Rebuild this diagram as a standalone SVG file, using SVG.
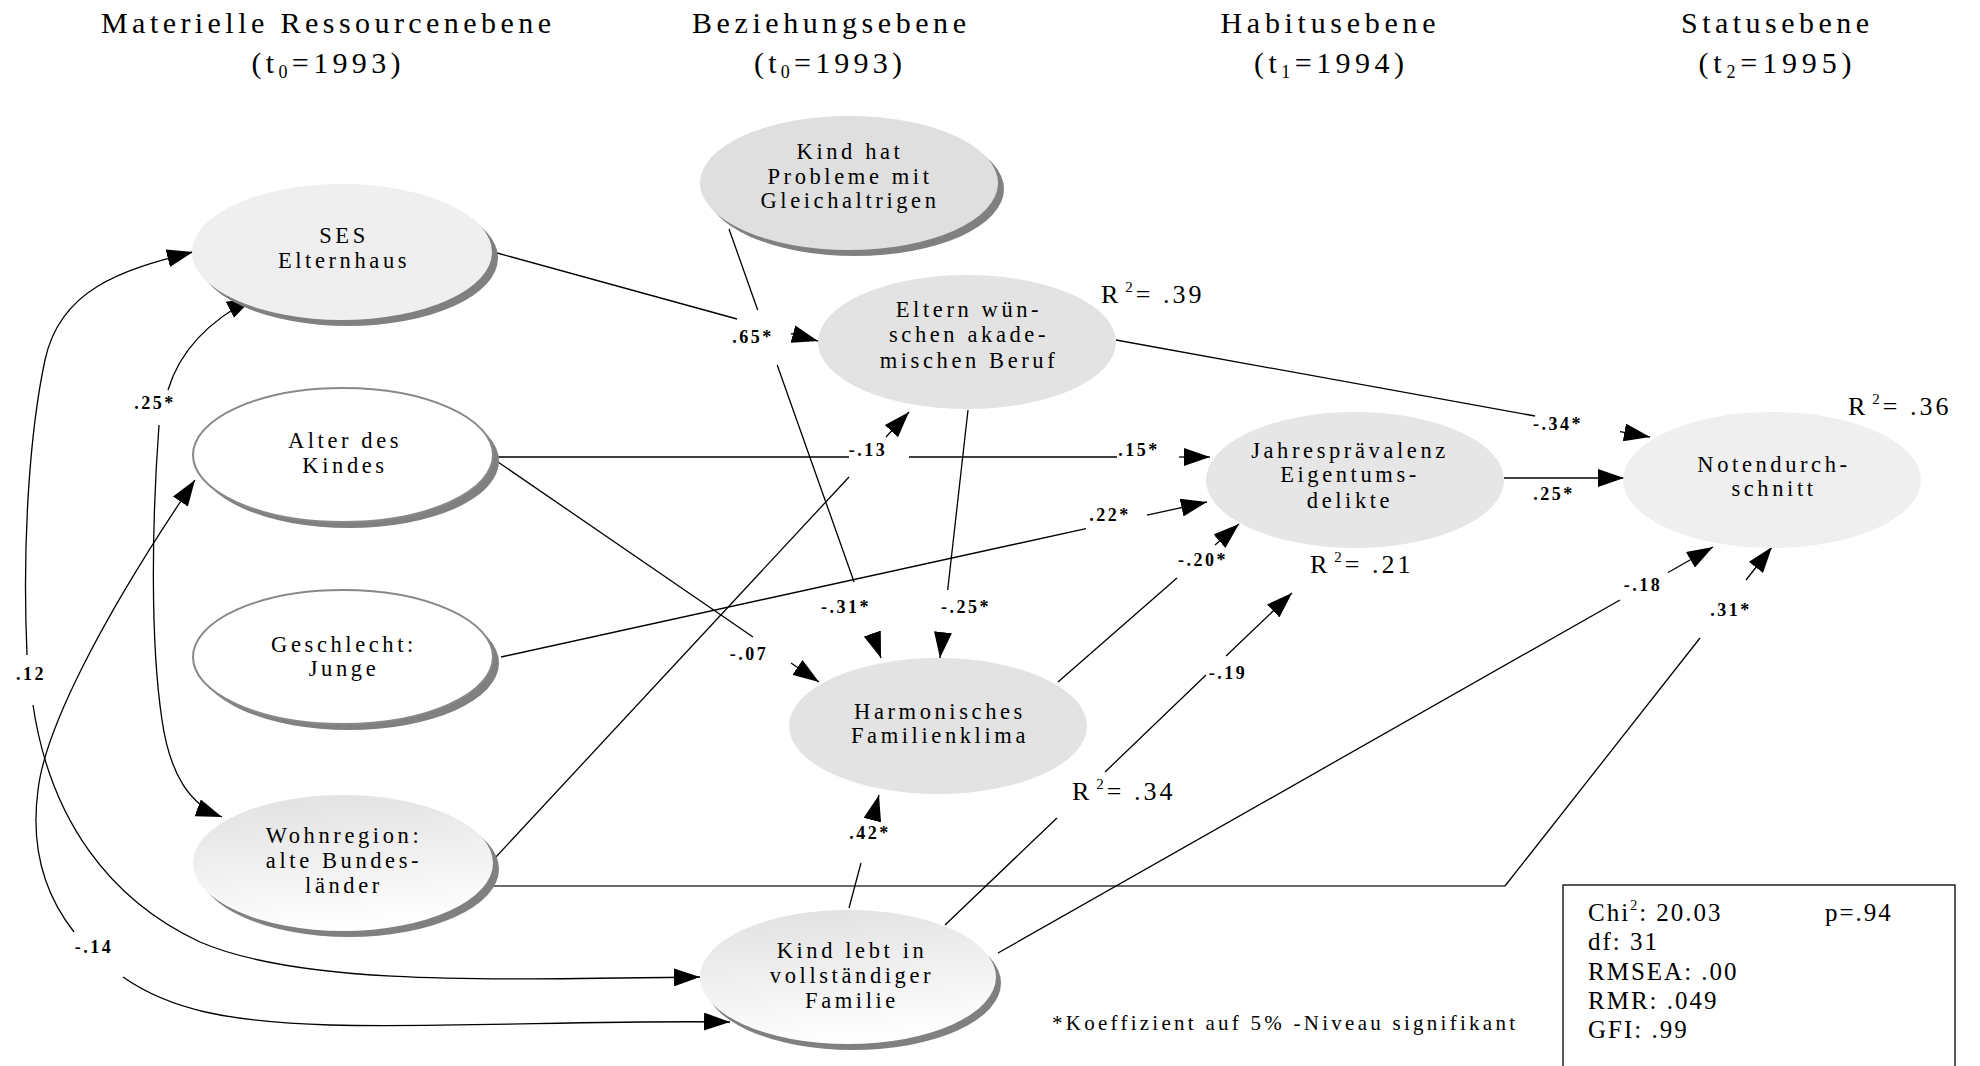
<svg xmlns="http://www.w3.org/2000/svg" width="1980" height="1066" viewBox="0 0 1980 1066">
  <style>
    .title { font-family: "Liberation Serif", "Times New Roman", serif; font-size: 30px; fill: #000; text-anchor: middle; }
    .node { font-family: "Liberation Serif", "Times New Roman", serif; font-size: 22.5px; letter-spacing: 3.6px; fill: #000; text-anchor: middle; }
    .coef { font-family: "Liberation Serif", "Times New Roman", serif; font-size: 18px; font-weight: bold; letter-spacing: 2.5px; fill: #000; text-anchor: middle; stroke: #fff; stroke-width: 4px; paint-order: stroke; stroke-linejoin: round; }
    .rsq { font-family: "Liberation Serif", "Times New Roman", serif; font-size: 26px; letter-spacing: 3px; fill: #000; }
    .stat { font-family: "Liberation Serif", "Times New Roman", serif; font-size: 25px; letter-spacing: 2px; fill: #000; }
    .note { font-family: "Liberation Serif", "Times New Roman", serif; font-size: 21px; fill: #000; }
    .shadow { fill: #808080; }
    .edge { fill: none; stroke: #000; stroke-width: 1.3; }
    .arr { marker-end: url(#ah); }
  </style>
  <defs>
    <marker id="ah" viewBox="0 0 26 18" refX="26" refY="9" markerWidth="26" markerHeight="18" markerUnits="userSpaceOnUse" orient="auto-start-reverse">
      <path d="M0,0 L26,9 L0,18 z" fill="#000"/>
    </marker>
    <linearGradient id="fade" x1="0.3" y1="0" x2="0.5" y2="1">
      <stop offset="0" stop-color="#e2e2e2"/>
      <stop offset="1" stop-color="#ffffff"/>
    </linearGradient>
  </defs>

  <rect width="1980" height="1066" fill="#fff"/>

  <!-- level headings -->
  <g id="headings">
    <text class="title" x="326" y="33" textLength="450" lengthAdjust="spacing">Materielle Ressourcenebene</text>
    <text class="title" x="326" y="73" textLength="149" lengthAdjust="spacing">(t<tspan font-size="18" dy="5">0</tspan><tspan dy="-5">=1993)</tspan></text>
    <text class="title" x="829" y="33" textLength="274" lengthAdjust="spacing">Beziehungsebene</text>
    <text class="title" x="828" y="73" textLength="148" lengthAdjust="spacing">(t<tspan font-size="18" dy="5">0</tspan><tspan dy="-5">=1993)</tspan></text>
    <text class="title" x="1328" y="33" textLength="215" lengthAdjust="spacing">Habitusebene</text>
    <text class="title" x="1329" y="73" textLength="150" lengthAdjust="spacing">(t<tspan font-size="18" dy="5">1</tspan><tspan dy="-5">=1994)</tspan></text>
    <text class="title" x="1775" y="33" textLength="188" lengthAdjust="spacing">Statusebene</text>
    <text class="title" x="1775" y="73" textLength="153" lengthAdjust="spacing">(t<tspan font-size="18" dy="5">2</tspan><tspan dy="-5">=1995)</tspan></text>
  </g>

  <!-- paths and covariances -->
  <g id="connectors">
    <!-- SES -> Eltern wünschen (.65*) -->
    <path class="edge" d="M497,253 L737,319"/>
    <path class="edge arr" d="M791,333.6 L818,341"/>
    <!-- Probleme mit Gleichaltrigen -> Familienklima (-.31*) -->
    <path class="edge" d="M729,229 L757.7,310 M777.2,365 L854.1,582"/>
    <path class="edge arr" d="M873.2,636 L881,658"/>
    <!-- Eltern wünschen -> Familienklima (-.25*) -->
    <path class="edge" d="M968,410 L947.7,590"/>
    <path class="edge arr" d="M942.5,636 L940,658"/>
    <!-- Eltern wünschen -> Notendurchschnitt (-.34*) -->
    <path class="edge" d="M1116,340 L1535,416"/>
    <path class="edge arr" d="M1620,431.6 L1650,437"/>
    <!-- Alter -> Eigentumsdelikte (.15*) -->
    <path class="edge" d="M496,457 L849,457 M909,457 L1117,457"/>
    <path class="edge arr" d="M1179,457 L1210,457"/>
    <!-- Alter -> Familienklima (-.07) -->
    <path class="edge" d="M498,462 L753,637"/>
    <path class="edge arr" d="M791,663 L819,682"/>
    <!-- Geschlecht -> Eigentumsdelikte (.22*) -->
    <path class="edge" d="M501,657 L1086,528.6"/>
    <path class="edge arr" d="M1147,515.2 L1207,502"/>
    <!-- Wohnregion -> Eltern wünschen (-.13) -->
    <path class="edge" d="M495,858 L849,477"/>
    <path class="edge arr" d="M886,437 L909,412"/>
    <!-- Wohnregion -> Notendurchschnitt (.31*) -->
    <path d="M491,886 L1505,886" fill="none" stroke="#6a6a6a" stroke-width="2"/>
    <path class="edge" d="M1505,886 L1700,638"/>
    <path class="edge arr" d="M1746,580 L1772,547"/>
    <!-- vollständige Familie -> Familienklima (.42*) -->
    <path class="edge" d="M849,908 L861,863"/>
    <path class="edge arr" d="M874.5,812 L879,795"/>
    <!-- vollständige Familie -> Eigentumsdelikte (-.19) -->
    <path class="edge" d="M945,925 L1057,818 M1105,772 L1206,675"/>
    <path class="edge arr" d="M1226,656 L1292,593"/>
    <!-- vollständige Familie -> Notendurchschnitt (-.18) -->
    <path class="edge" d="M998,953 L1620,600"/>
    <path class="edge arr" d="M1668,572.5 L1713,547"/>
    <!-- Familienklima -> Eigentumsdelikte (-.20*) -->
    <path class="edge" d="M1058,682 L1177,578"/>
    <path class="edge arr" d="M1215,545 L1239,524"/>
    <!-- Eigentumsdelikte -> Notendurchschnitt (.25*) -->
    <path class="edge arr" d="M1504,478 L1624,478"/>

    <!-- covariance SES / vollständige Familie (.12) -->
    <path class="edge" d="M27,655 C22,540 30,430 45,360 C60,290 120,270 193,252" marker-end="url(#ah)"/>
    <path class="edge" d="M33,705 C50,820 110,900 200,942 C300,985 480,980 700,977" marker-end="url(#ah)"/>
    <!-- covariance SES / Wohnregion (.25*) -->
    <path class="edge" d="M168,390 C180,350 210,320 253,298" marker-end="url(#ah)"/>
    <path class="edge" d="M159,425 C152,520 150,640 162,720 C170,775 190,805 222,817" marker-end="url(#ah)"/>
    <!-- covariance Alter / vollständige Familie (-.14) -->
    <path class="edge" d="M74,932 C45,895 30,850 38,790 C45,730 100,620 195,480" marker-end="url(#ah)"/>
    <path class="edge" d="M123,977 C170,1010 230,1022 330,1025 C450,1028 600,1020 730,1022" marker-end="url(#ah)"/>
  </g>

  <!-- coefficients -->
  <g id="coefficients">
    <text class="coef" x="753" y="343">.65*</text>
    <text class="coef" x="155" y="409">.25*</text>
    <text class="coef" x="868" y="456">-.13</text>
    <text class="coef" x="1139" y="456">.15*</text>
    <text class="coef" x="1110" y="521">.22*</text>
    <text class="coef" x="1558" y="430">-.34*</text>
    <text class="coef" x="1554" y="500">.25*</text>
    <text class="coef" x="1203" y="566">-.20*</text>
    <text class="coef" x="846" y="613">-.31*</text>
    <text class="coef" x="966" y="613">-.25*</text>
    <text class="coef" x="749" y="660">-.07</text>
    <text class="coef" x="1228" y="679">-.19</text>
    <text class="coef" x="1643" y="591">-.18</text>
    <text class="coef" x="1731" y="616">.31*</text>
    <text class="coef" x="31" y="680">.12</text>
    <text class="coef" x="870" y="839">.42*</text>
    <text class="coef" x="94" y="953">-.14</text>
  </g>

  <!-- explained variance -->
  <g id="r-squared">
    <text class="rsq" x="1101" y="303">R<tspan font-size="15" dx="4" dy="-11">2</tspan><tspan dy="11">= .39</tspan></text>
    <text class="rsq" x="1310" y="573">R<tspan font-size="15" dx="4" dy="-11">2</tspan><tspan dy="11">= .21</tspan></text>
    <text class="rsq" x="1848" y="415">R<tspan font-size="15" dx="4" dy="-11">2</tspan><tspan dy="11">= .36</tspan></text>
    <text class="rsq" x="1072" y="800">R<tspan font-size="15" dx="4" dy="-11">2</tspan><tspan dy="11">= .34</tspan></text>
  </g>

  <!-- nodes -->
  <g id="ses">
    <ellipse class="shadow" cx="348" cy="258" rx="150" ry="68"/>
    <ellipse cx="342" cy="252" rx="150" ry="68" fill="#efefef"/>
    <text class="node" x="344" y="243">SES</text>
    <text class="node" x="344" y="268">Elternhaus</text>
  </g>

  <g id="probleme">
    <ellipse class="shadow" cx="855" cy="189" rx="149" ry="67"/>
    <ellipse cx="849" cy="183" rx="149" ry="67" fill="#dfdfdf"/>
    <text class="node" x="850" y="159">Kind hat</text>
    <text class="node" x="850" y="184">Probleme mit</text>
    <text class="node" x="850" y="208">Gleichaltrigen</text>
  </g>

  <g id="eltern">
    <ellipse cx="967" cy="342" rx="149" ry="67" fill="#e3e3e3"/>
    <text class="node" x="969" y="317">Eltern wün-</text>
    <text class="node" x="969" y="342">schen akade-</text>
    <text class="node" x="969" y="368">mischen Beruf</text>
  </g>

  <g id="alter">
    <ellipse class="shadow" cx="349" cy="461" rx="150" ry="67"/>
    <ellipse cx="343" cy="455" rx="150" ry="67" fill="#fff" stroke="#888" stroke-width="2"/>
    <text class="node" x="345" y="448">Alter des</text>
    <text class="node" x="345" y="473">Kindes</text>
  </g>

  <g id="geschlecht">
    <ellipse class="shadow" cx="349" cy="663" rx="150" ry="67"/>
    <ellipse cx="343" cy="657" rx="150" ry="67" fill="#fff" stroke="#888" stroke-width="2"/>
    <text class="node" x="344" y="652">Geschlecht:</text>
    <text class="node" x="344" y="676">Junge</text>
  </g>

  <g id="wohnregion">
    <ellipse class="shadow" cx="349" cy="869" rx="150" ry="68"/>
    <ellipse cx="343" cy="863" rx="150" ry="68" fill="url(#fade)"/>
    <text class="node" x="344" y="843">Wohnregion:</text>
    <text class="node" x="344" y="868">alte Bundes-</text>
    <text class="node" x="344" y="893">länder</text>
  </g>

  <g id="familienklima">
    <ellipse cx="938" cy="726" rx="149" ry="68" fill="#e3e3e3"/>
    <text class="node" x="940" y="719">Harmonisches</text>
    <text class="node" x="940" y="743">Familienklima</text>
  </g>

  <g id="vollstaendig">
    <ellipse class="shadow" cx="853" cy="983" rx="148" ry="67"/>
    <ellipse cx="848" cy="977" rx="148" ry="67" fill="url(#fade)"/>
    <text class="node" x="852" y="958">Kind lebt in</text>
    <text class="node" x="852" y="983">vollständiger</text>
    <text class="node" x="852" y="1008">Familie</text>
  </g>

  <g id="delikte">
    <ellipse cx="1355" cy="480" rx="149" ry="68" fill="#e6e6e6"/>
    <text class="node" x="1350" y="458">Jahresprävalenz</text>
    <text class="node" x="1350" y="482">Eigentums-</text>
    <text class="node" x="1350" y="508">delikte</text>
  </g>

  <g id="noten">
    <ellipse cx="1772" cy="480" rx="149" ry="68" fill="#efefef"/>
    <text class="node" x="1774" y="472">Notendurch-</text>
    <text class="node" x="1774" y="496">schnitt</text>
  </g>

  <!-- fit statistics -->
  <g id="fit">
    <rect x="1563" y="885" width="392" height="200" fill="none" stroke="#000" stroke-width="1.3"/>
    <text class="stat" x="1588" y="921">Chi<tspan font-size="14" dy="-11">2</tspan><tspan dy="11">: 20.03</tspan></text>
    <text class="stat" x="1825" y="921">p=.94</text>
    <text class="stat" x="1588" y="950">df: 31</text>
    <text class="stat" x="1588" y="980">RMSEA: .00</text>
    <text class="stat" x="1588" y="1009">RMR: .049</text>
    <text class="stat" x="1588" y="1038">GFI: .99</text>
  </g>

  <text class="note" x="1052" y="1030" textLength="463" lengthAdjust="spacing">*Koeffizient auf 5% -Niveau signifikant</text>
</svg>
